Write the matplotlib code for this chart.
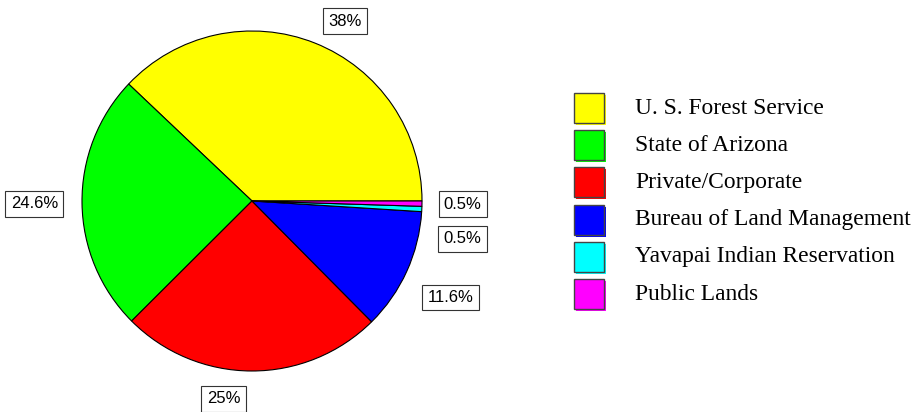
import numpy as np
import matplotlib
matplotlib.use('Agg')
import matplotlib.pyplot as plt
from matplotlib.patches import Rectangle

# land ownership shares
owners = ['U. S. Forest Service', 'State of Arizona', 'Private/Corporate',
          'Bureau of Land Management', 'Yavapai Indian Reservation', 'Public Lands']
shares = [38, 24.6, 25, 11.6, 0.5, 0.5]
pct_labels = ['38%', '24.6%', '25%', '11.6%', '0.5%', '0.5%']
colors = ['#ffff00', '#00ff00', '#ff0000', '#0000ff', '#00ffff', '#ff00ff']

W, H = 919, 412
fig = plt.figure(figsize=(W / 100, H / 100), dpi=100)
ax = fig.add_axes([0, 0, 1, 1])
cx, cy, R = 252, 201, 170   # pixel center / radius of pie

wedges, _ = ax.pie(shares, colors=colors, startangle=0, counterclock=True,
                   radius=1, wedgeprops=dict(edgecolor='black', linewidth=0.8),
                   normalize=True)
ax.set_xlim(-cx / R, (W - cx) / R)
ax.set_ylim(-(H - cy) / R, cy / R)
ax.set_aspect('auto')
ax.axis('off')

# label placement: radial distance + angle shift per slice, small slices stacked
dist = [1.19, 1.28, 1.175, 1.3, 1.24, 1.24]
ang_shift = [-5.6, 0, -8, -1.5, 0, 0]
dy_extra = [0, 0, 0, 0, -0.165, 0.0]
for w, lab, d, a, dd in zip(wedges, pct_labels, dist, ang_shift, dy_extra):
    mid = np.deg2rad((w.theta1 + w.theta2) / 2 + a)
    x = d * np.cos(mid)
    y = d * np.sin(mid) + dd
    ax.text(x, y, lab, ha='center', va='center', fontsize=12,
            family='Liberation Sans',
            bbox=dict(boxstyle='square,pad=0.32', fc='white', ec='#333333', lw=0.8))

# legend drawn by hand, squares with a coloured shadow
fx = 574 / W
bw, bh = 30 / W, 30 / H
for i, (name, c) in enumerate(zip(owners, colors)):
    yc = (H - (108 + i * 37.2)) / H
    fig.patches.append(Rectangle((fx + 2 / W, yc - bh / 2 - 2 / H), bw, bh,
                                 transform=fig.transFigure, fc=c, ec='none'))
    fig.patches.append(Rectangle((fx, yc - bh / 2), bw, bh,
                                 transform=fig.transFigure, fc=c, ec='#444444', lw=1))
    fig.text(635 / W, yc, name, ha='left', va='center', fontsize=16.9,
             family='Liberation Serif')

fig.savefig('out.png', dpi=100)
